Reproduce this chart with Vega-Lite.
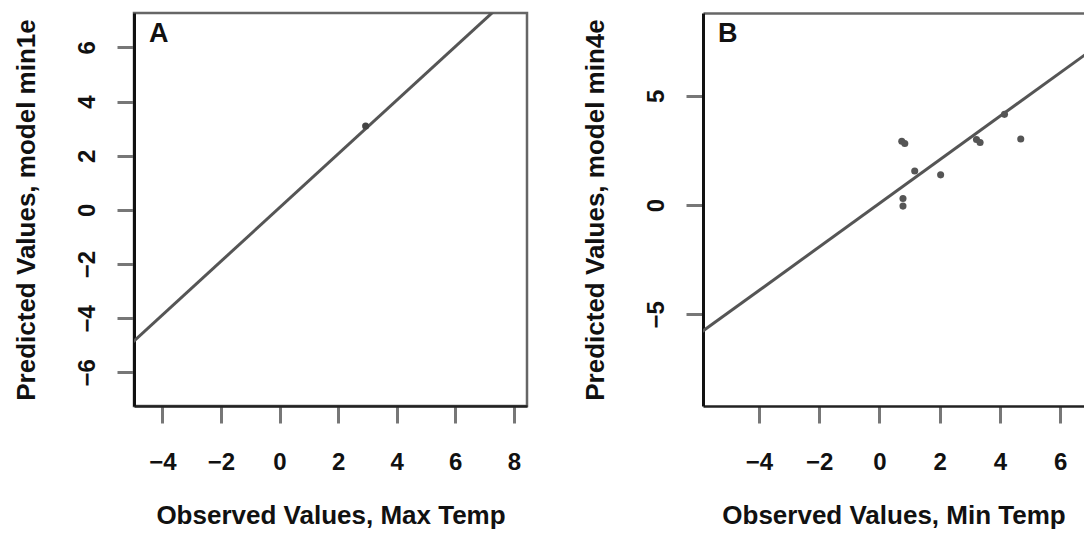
{
  "$schema": "https://vega.github.io/schema/vega-lite/v6.json",
  "background": "white",
  "padding": {"left": 11, "top": 11, "right": 0, "bottom": 0},
  "spacing": 53,
  "datasets": {
    "fitA": [{"obs": -6, "pred": -5.86}, {"obs": 9, "pred": 9.0}],
    "ptsA": [{"obs": 2.94, "pred": 3.1}],
    "fitB": [{"obs": -7, "pred": -6.9}, {"obs": 8, "pred": 8.05}],
    "ptsB": [
      {"obs": 0.74, "pred": 2.92},
      {"obs": 0.84, "pred": 2.82},
      {"obs": 1.17, "pred": 1.56},
      {"obs": 2.03, "pred": 1.38},
      {"obs": 0.78, "pred": 0.3},
      {"obs": 0.78, "pred": -0.05},
      {"obs": 3.22, "pred": 3.0},
      {"obs": 3.34, "pred": 2.86},
      {"obs": 4.69, "pred": 3.02},
      {"obs": 4.15, "pred": 4.15}
    ]
  },
  "config": {
    "font": "Liberation Sans",
    "axis": {
      "grid": false,
      "labelFont": "Liberation Sans",
      "titleFont": "Liberation Sans",
      "labelFontSize": 24,
      "titleFontSize": 26,
      "labelFontWeight": "bold",
      "titleFontWeight": "bold",
      "labelColor": "#111",
      "titleColor": "#111",
      "tickColor": "#777",
      "tickWidth": 3,
      "tickSize": 17,
      "labelFlush": false,
      "labelOverlap": false
    },
    "axisX": {"labelPadding": 27, "titlePadding": 28, "domainColor": "#222", "domainWidth": 2.5},
    "axisY": {"labelAngle": -90, "labelAlign": "center", "labelBaseline": "middle", "labelPadding": 30, "titlePadding": 36, "domainColor": "#111", "domainWidth": 3},
    "title": {"font": "Liberation Sans", "fontSize": 27, "fontWeight": "bold", "color": "#111", "anchor": "start", "frame": "group", "offset": -35, "baseline": "alphabetic", "dx": 15}
  },
  "hconcat": [
    {
      "width": 393,
      "height": 393,
      "title": {"text": "A"},
      "view": {"stroke": "#666", "strokeWidth": 2.5},
      "layer": [
        {
          "data": {"name": "fitA"},
          "mark": {"type": "line", "clip": true, "color": "#555", "strokeWidth": 3},
          "encoding": {
            "x": {"field": "obs", "type": "quantitative", "scale": {"domain": [-4.97, 8.45], "nice": false, "zero": false}, "axis": {"values": [-4, -2, 0, 2, 4, 6, 8], "title": "Observed Values, Max Temp"}},
            "y": {"field": "pred", "type": "quantitative", "scale": {"domain": [-7.24, 7.27], "nice": false, "zero": false}, "axis": {"values": [-6, -4, -2, 0, 2, 4, 6], "title": "Predicted Values, model min1e"}}
          }
        },
        {
          "data": {"name": "ptsA"},
          "mark": {"type": "circle", "size": 50, "color": "#444", "opacity": 1},
          "encoding": {
            "x": {"field": "obs", "type": "quantitative"},
            "y": {"field": "pred", "type": "quantitative"}
          }
        }
      ]
    },
    {
      "width": 381,
      "height": 393,
      "title": {"text": "B"},
      "view": {"stroke": null},
      "resolve": {"axis": {"x": "independent"}},
      "layer": [
        {
          "data": {"name": "fitB"},
          "mark": {"type": "line", "clip": true, "color": "#555", "strokeWidth": 3},
          "encoding": {
            "x": {"field": "obs", "type": "quantitative", "scale": {"domain": [-5.86, 6.79], "nice": false, "zero": false}, "axis": {"values": [-4, -2, 0, 2, 4, 6], "title": "Observed Values, Min Temp"}},
            "y": {"field": "pred", "type": "quantitative", "scale": {"domain": [-9.2, 8.79], "nice": false, "zero": false}, "axis": {"values": [-5, 0, 5], "title": "Predicted Values, model min4e"}}
          }
        },
        {
          "data": {"name": "ptsB"},
          "mark": {"type": "circle", "size": 50, "color": "#555", "opacity": 1},
          "encoding": {
            "x": {"field": "obs", "type": "quantitative", "axis": {"orient": "top", "labels": false, "ticks": false, "domain": true, "domainColor": "#666", "domainWidth": 2.5, "title": null}},
            "y": {"field": "pred", "type": "quantitative"}
          }
        }
      ]
    }
  ]
}
